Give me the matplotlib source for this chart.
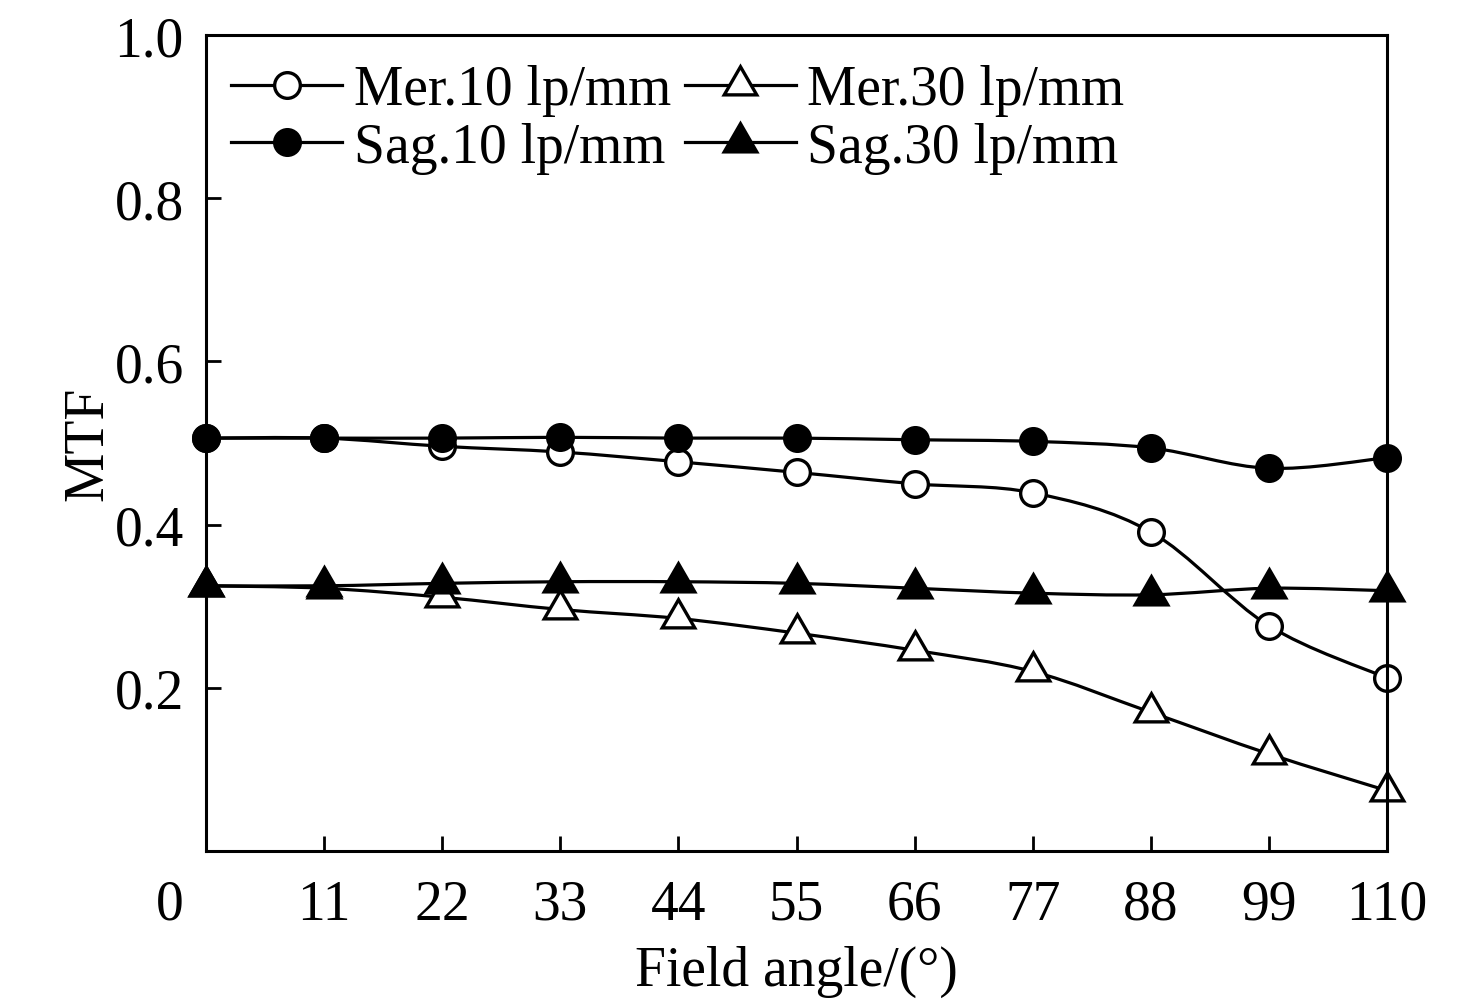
import numpy as np
import matplotlib
matplotlib.use('Agg')
import matplotlib.pyplot as plt
from matplotlib.path import Path
from matplotlib.patches import PathPatch
from matplotlib.lines import Line2D
from matplotlib.transforms import ScaledTranslation

plt.rcParams['font.family'] = ['Liberation Serif', 'DejaVu Serif']

# ---------------- data ----------------
field_angle = [0, 11, 22, 33, 44, 55, 66, 77, 88, 99, 110]
mer10 = [0.506, 0.506, 0.496, 0.489, 0.477, 0.464, 0.450, 0.439, 0.391, 0.276, 0.212]
sag10 = [0.506, 0.506, 0.506, 0.507, 0.506, 0.506, 0.504, 0.502, 0.494, 0.469, 0.482]
mer30 = [0.325, 0.322, 0.311, 0.296, 0.285, 0.267, 0.246, 0.220, 0.170, 0.119, 0.074]
sag30 = [0.325, 0.325, 0.328, 0.330, 0.330, 0.328, 0.322, 0.316, 0.314, 0.322, 0.319]

labels = ['Mer.10 lp/mm', 'Sag.10 lp/mm', 'Mer.30 lp/mm', 'Sag.30 lp/mm']
xticks = [0, 11, 22, 33, 44, 55, 66, 77, 88, 99, 110]
yticks = [0.2, 0.4, 0.6, 0.8, 1.0]

FS = 40
LW = 2.3
MEW = 2.4
TRI = (3, 0, 0)


def smooth_path(x, y):
    # smooth connecting curve (Catmull-Rom as cubic Bezier) through the points
    p = np.column_stack([x, y]).astype(float)
    ext = np.vstack([p[0], p, p[-1]])
    verts = [p[0]]
    codes = [Path.MOVETO]
    for i in range(len(p) - 1):
        p0, p1, p2, p3 = ext[i], ext[i + 1], ext[i + 2], ext[i + 3]
        c1 = p1 + (p2 - p0) / 6.0
        c2 = p2 - (p3 - p1) / 6.0
        verts += [c1, c2, p2]
        codes += [Path.CURVE4] * 3
    return Path(verts, codes)


fig = plt.figure(figsize=(14.76, 10.04), dpi=100)
ax = fig.add_axes([0.1396, 0.1514, 0.8001, 0.8127])

styles = [
    (mer10, 'o', 18.5, 'white'),
    (sag10, 'o', 18.5, 'black'),
    (mer30, TRI, 27, 'white'),
    (sag30, TRI, 27, 'black'),
]

handles = []
for (vals, mk, ms, fc), lab in zip(styles, labels):
    ax.add_patch(PathPatch(smooth_path(field_angle, vals), facecolor='none',
                           edgecolor='black', lw=LW, clip_on=False, zorder=2))
    ax.plot(field_angle, vals, linestyle='none', marker=mk, ms=ms,
            mfc=fc, mec='black', mew=MEW, clip_on=False, zorder=3)
    handles.append(Line2D([], [], color='black', lw=LW, marker=mk, ms=ms,
                          mfc=fc, mec='black', mew=MEW, label=lab))

ax.set_xlim(0, 110)
ax.set_ylim(0, 1.0)
ax.set_xticks(xticks)
ax.set_xticklabels([str(v) for v in xticks])
ax.set_yticks(yticks)
ax.set_yticklabels(['%.1f' % v for v in yticks])

for sp in ax.spines.values():
    sp.set_linewidth(2.2)
    sp.set_zorder(4)

ax.tick_params(direction='in', length=11, width=2, labelsize=FS,
               top=False, right=False)
ax.tick_params(axis='x', pad=20)
ax.tick_params(axis='y', pad=16)

# corner "0" sits left of the axis, like the original
lab0 = ax.get_xticklabels()[0]
lab0.set_transform(lab0.get_transform() + ScaledTranslation(-0.36, 0, fig.dpi_scale_trans))
ax.xaxis.get_major_ticks()[0].tick1line.set_visible(False)

ax.set_xlabel('Field angle/(°)', fontsize=FS, labelpad=10)
ax.set_ylabel('MTF', fontsize=FS, labelpad=0)

ax.legend(handles=handles, ncol=2, loc='upper left', bbox_to_anchor=(0.012, 0.978),
          frameon=False, fontsize=FS, handlelength=2.0, handletextpad=0.2,
          columnspacing=0.25, labelspacing=0.1, borderpad=0.2, borderaxespad=0)

fig.savefig('out.png', dpi=100)
